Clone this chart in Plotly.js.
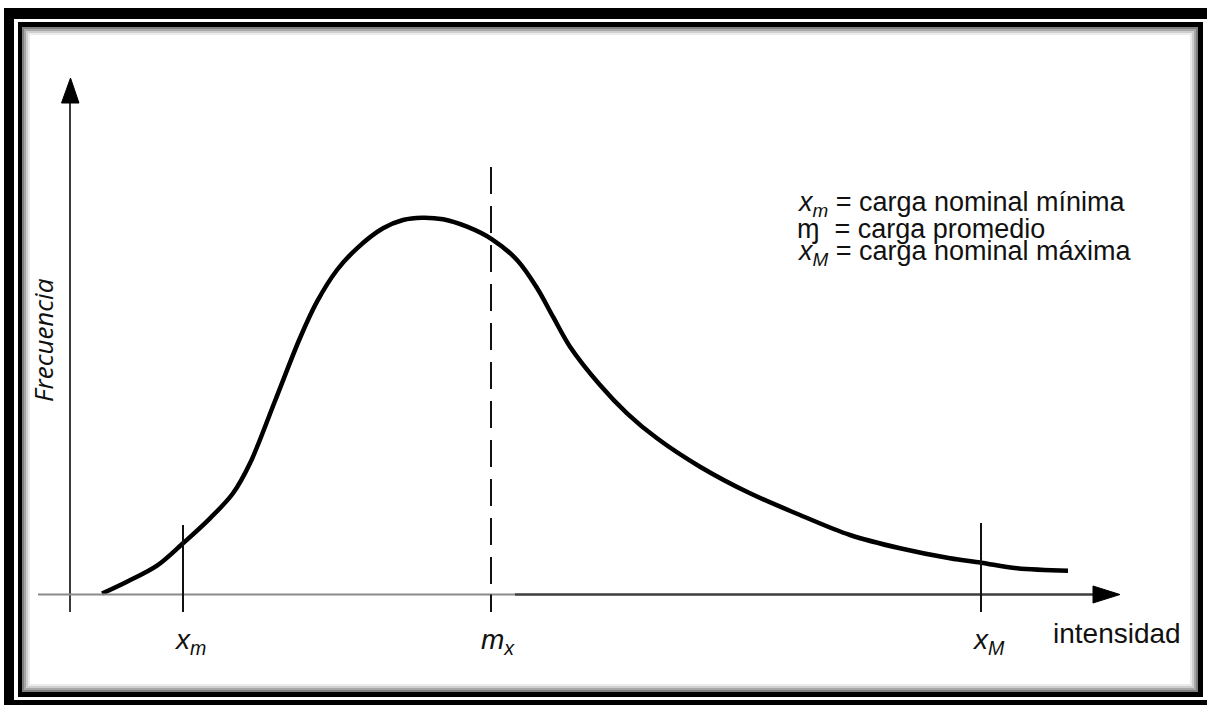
<!DOCTYPE html>
<html>
<head>
<meta charset="utf-8">
<script src="https://cdn.plot.ly/plotly-3.0.1.min.js"></script>
<style>html,body{margin:0;padding:0;background:#fff;}#chart{width:1207px;height:705px;}</style>
</head>
<body>
<div id="chart"></div>
<script>
// ---- data ----
const intensity = [0.32, 0.57, 0.87, 1.13, 1.40, 1.63, 1.80, 2.05, 2.30, 2.47, 2.67, 2.87, 3.13, 3.33, 3.52, 3.73, 3.97, 4.22, 4.47, 4.67, 4.83, 5.00, 5.30, 5.57, 5.87, 6.30, 6.80, 7.30, 7.80, 8.30, 8.80, 9.11, 9.47, 9.98];
const frequency = [0.01, 0.128, 0.288, 0.512, 0.762, 1.012, 1.312, 1.935, 2.565, 2.928, 3.245, 3.462, 3.662, 3.745, 3.768, 3.752, 3.678, 3.552, 3.345, 3.065, 2.778, 2.478, 2.095, 1.812, 1.562, 1.278, 1.012, 0.795, 0.595, 0.462, 0.362, 0.318, 0.262, 0.238];
const markX = [1.13, 4.21, 9.11];
const markTop = [0.695, 4.275, 0.715];
const markLabels = ['<i>x<sub>m</sub></i>', '<i>m<sub>x</sub></i>', '<i>x<sub>M</sub></i>'];
const legendLines = ['<i>x<sub>m</sub></i> = carga nominal mínima', 'ɱ\u00a0 = carga promedio', '<i>x<sub>M</sub></i> = carga nominal máxima'];
const xAxisLabel = 'intensidad';
const yAxisLabel = 'Frecuencia';

// ---- geometry helpers ----
const W = 1207, H = 705;
const px = v => v / W, py = v => 1 - v / H;
const black = '#000';
const shapes = [];
function prect(x0, y0, x1, y1, fill) {
  shapes.push({type: 'rect', xref: 'paper', yref: 'paper', x0: px(x0), x1: px(x1), y0: py(y1), y1: py(y0), fillcolor: fill, line: {width: 0}, layer: 'below'});
}
// frame
prect(4, 8, 1300, 760, black);
prect(14, 19, 1300, 700, '#fff');
prect(18, 22, 1203, 697, black);
prect(22, 27, 1198, 692, '#808080');
prect(24, 29, 1196, 690, '#a8a8a8');
prect(26, 31, 1194, 688, '#cfcfcf');
prect(28, 33, 1192, 686, '#ececec');
prect(30, 35, 1190, 684, '#fff');

function dline(x0, y0, x1, y1, color, width, dash) {
  shapes.push({type: 'line', xref: 'x', yref: 'y', x0, y0, x1, y1, line: {color, width, dash: dash || 'solid'}});
}
// axes
const yBottom = -0.175;
dline(0, yBottom, 0, 4.93, '#3a3a3a', 2);
dline(-0.32, 0, 4.45, 0, '#8a8a8a', 2);
dline(4.45, 0.0, 10.25, 0.0, '#3c3c3c', 2.5);
// arrowheads
shapes.push({type: 'path', xref: 'x', yref: 'y', path: 'M -0.085 4.915 L 0.005 5.165 L 0.09 4.915 Z', fillcolor: black, line: {color: black, width: 1}});
shapes.push({type: 'path', xref: 'x', yref: 'y', path: 'M 10.23 0.085 L 10.50 0 L 10.23 -0.085 Z', fillcolor: black, line: {color: black, width: 1}});
// marks
markX.forEach((x, i) => {
  if (i === 1) {
    dline(x, markTop[i], x, 0.0, '#111', 2, '27px,12px');
    dline(x, 0, x, yBottom, '#111', 2);
  } else {
    dline(x, markTop[i], x, yBottom, '#111', 2);
  }
});

const annotations = [];
markLabels.forEach((t, i) => {
  annotations.push({x: markX[i], y: -0.47, xref: 'x', yref: 'y', text: t, showarrow: false, xanchor: 'center', yanchor: 'middle', xshift: 7,
    font: {family: 'Liberation Sans, Arial, sans-serif', size: 28, color: '#111'}});
});
annotations.push({x: 10.47, y: -0.385, xref: 'x', yref: 'y', text: xAxisLabel, showarrow: false, xanchor: 'center', yanchor: 'middle',
  font: {family: 'Liberation Sans, Arial, sans-serif', size: 28, color: '#111'}});
annotations.push({x: -0.27, y: 2.545, xref: 'x', yref: 'y', text: '<i>' + yAxisLabel + '</i>', textangle: -90, showarrow: false, xanchor: 'center', yanchor: 'middle',
  font: {family: 'Open Sans, sans-serif', size: 26, color: '#111'}});
const legendY = [3.905, 3.66, 3.415];
legendLines.forEach((t, i) => {
  annotations.push({x: 7.25, y: legendY[i], xref: 'x', yref: 'y', text: t, showarrow: false, xanchor: 'left', yanchor: 'middle',
    font: {family: 'Liberation Sans, Arial, sans-serif', size: 27, color: '#111'}});
});

const trace = {x: intensity, y: frequency, type: 'scatter', mode: 'lines', line: {color: black, width: 4.5, shape: 'spline', smoothing: 1}, hoverinfo: 'skip'};

const layout = {
  width: W, height: H, margin: {l: 0, r: 0, t: 0, b: 0}, showlegend: false,
  paper_bgcolor: '#fff', plot_bgcolor: 'rgba(0,0,0,0)',
  xaxis: {range: [-0.70, 11.37], visible: false, fixedrange: true},
  yaxis: {range: [-1.105, 5.945], visible: false, fixedrange: true},
  shapes, annotations
};
Plotly.newPlot('chart', [trace], layout, {displayModeBar: false, staticPlot: true});
</script>
</body>
</html>
